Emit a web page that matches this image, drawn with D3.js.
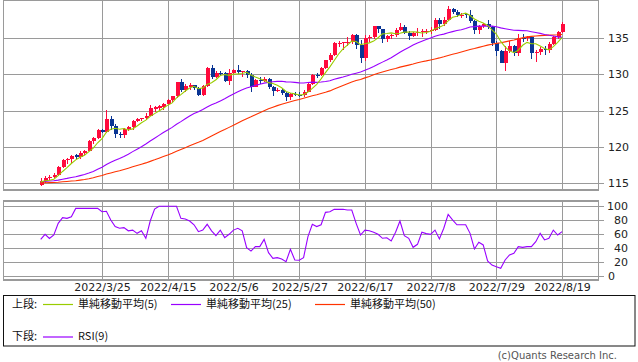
<!DOCTYPE html>
<html>
<head>
<meta charset="utf-8">
<script src="https://cdn.jsdelivr.net/npm/d3@7"></script>
<style>
  body { margin: 0; background: #fff; }
  svg { display: block; }
  text { font-family: "DejaVu Sans", sans-serif; }
  .jp { font-family: "Noto Sans CJK JP", sans-serif; }
</style>
</head>
<body>
<svg id="chart" width="638" height="362"></svg>
<script>
// --- USD/JPY daily candles 2022/3/7 - 2022/8/19 ---
const dates = [
  '2022/3/7','2022/3/8','2022/3/9','2022/3/10','2022/3/11','2022/3/14','2022/3/15','2022/3/16','2022/3/17','2022/3/18',
  '2022/3/21','2022/3/22','2022/3/23','2022/3/24','2022/3/25','2022/3/28','2022/3/29','2022/3/30','2022/3/31','2022/4/1',
  '2022/4/4','2022/4/5','2022/4/6','2022/4/7','2022/4/8','2022/4/11','2022/4/12','2022/4/13','2022/4/14','2022/4/15',
  '2022/4/18','2022/4/19','2022/4/20','2022/4/21','2022/4/22','2022/4/25','2022/4/26','2022/4/27','2022/4/28','2022/4/29',
  '2022/5/2','2022/5/3','2022/5/4','2022/5/5','2022/5/6','2022/5/9','2022/5/10','2022/5/11','2022/5/12','2022/5/13',
  '2022/5/16','2022/5/17','2022/5/18','2022/5/19','2022/5/20','2022/5/23','2022/5/24','2022/5/25','2022/5/26','2022/5/27',
  '2022/5/30','2022/5/31','2022/6/1','2022/6/2','2022/6/3','2022/6/6','2022/6/7','2022/6/8','2022/6/9','2022/6/10',
  '2022/6/13','2022/6/14','2022/6/15','2022/6/16','2022/6/17','2022/6/20','2022/6/21','2022/6/22','2022/6/23','2022/6/24',
  '2022/6/27','2022/6/28','2022/6/29','2022/6/30','2022/7/1','2022/7/4','2022/7/5','2022/7/6','2022/7/7','2022/7/8',
  '2022/7/11','2022/7/12','2022/7/13','2022/7/14','2022/7/15','2022/7/18','2022/7/19','2022/7/20','2022/7/21','2022/7/22',
  '2022/7/25','2022/7/26','2022/7/27','2022/7/28','2022/7/29','2022/8/1','2022/8/2','2022/8/3','2022/8/4','2022/8/5',
  '2022/8/8','2022/8/9','2022/8/10','2022/8/11','2022/8/12','2022/8/15','2022/8/16','2022/8/17','2022/8/18','2022/8/19'
];
const open = [
  114.80,115.33,115.68,115.86,116.13,117.28,118.18,118.30,118.95,118.60,
  119.17,119.45,120.80,121.17,122.33,122.05,123.84,122.85,121.82,121.70,
  122.53,122.78,123.60,123.81,123.97,124.33,125.20,125.35,125.50,125.90,
  126.40,126.96,128.89,127.86,128.30,128.51,128.13,127.22,128.40,130.81,
  129.70,130.25,130.13,129.10,130.20,130.56,130.30,130.42,129.95,128.30,
  129.25,129.10,129.40,128.30,127.75,127.90,127.40,126.85,127.30,127.20,
  127.10,127.63,128.67,129.95,129.88,130.87,131.91,132.62,134.20,134.30,
  134.35,134.44,135.44,133.97,132.19,134.97,135.08,136.66,136.23,134.93,
  135.21,135.45,136.11,136.56,135.72,135.21,135.72,135.86,135.92,136.02,
  136.10,137.43,136.89,137.42,138.97,138.53,138.10,138.25,138.20,137.37,
  136.10,136.68,136.95,136.56,134.26,133.27,131.59,133.17,133.86,133.00,
  135.05,134.98,135.15,132.92,133.01,133.42,133.30,134.22,135.10,135.89
];
const high = [
  115.80,116.05,116.20,116.40,117.35,118.40,118.45,118.90,119.05,119.40,
  119.60,121.00,121.40,122.45,122.45,125.09,124.30,123.15,122.10,122.60,
  122.90,123.70,124.05,124.05,124.68,125.77,125.62,125.80,126.00,126.60,
  127.05,129.00,129.40,128.70,128.85,128.60,128.20,128.60,131.00,131.25,
  130.40,130.45,130.35,130.80,130.80,131.35,130.50,130.55,130.15,129.40,
  129.70,129.70,129.45,128.40,128.10,128.00,127.50,127.45,127.55,127.50,
  127.85,128.85,130.10,130.20,130.98,132.00,132.99,134.48,134.56,134.50,
  135.20,135.59,135.60,134.70,135.43,135.40,136.71,136.71,136.30,135.40,
  135.60,136.40,137.00,136.80,135.95,135.85,136.40,136.20,136.20,136.50,
  137.75,137.70,137.85,139.39,139.10,138.80,138.40,138.35,138.87,137.50,
  136.80,137.10,137.45,136.60,134.60,133.30,133.90,134.55,134.10,135.50,
  135.60,135.30,135.20,133.40,133.70,133.90,134.40,135.30,136.00,137.20
];
const low = [
  114.65,115.10,115.45,115.70,116.00,117.10,117.70,117.85,118.35,118.40,
  118.90,119.40,120.35,121.10,121.90,121.95,122.40,121.20,121.30,121.30,
  122.25,122.40,123.40,123.55,123.75,124.25,124.85,125.10,125.10,125.80,
  126.25,126.80,127.60,127.50,127.80,127.80,126.95,126.95,128.30,129.30,
  129.50,129.80,128.90,128.60,130.00,130.00,129.70,129.50,127.50,128.20,
  128.70,128.90,128.00,127.00,127.50,127.20,126.36,126.50,126.95,126.85,
  126.90,127.50,128.50,129.50,129.80,130.70,131.75,132.50,133.70,133.40,
  133.90,134.20,133.50,131.50,131.90,134.50,134.90,135.70,134.27,134.50,
  134.90,135.10,135.90,135.60,134.75,135.10,135.30,135.20,135.50,135.60,
  135.95,136.30,136.70,137.30,138.30,137.90,137.70,137.80,137.00,135.60,
  135.60,136.40,136.30,133.95,132.50,131.50,130.39,132.90,132.50,132.55,
  134.40,134.60,132.05,131.75,132.60,132.60,132.90,134.00,134.90,135.70
];
const close = [
  115.33,115.68,115.86,116.13,117.28,118.18,118.30,118.77,118.60,119.17,
  119.45,120.80,121.17,122.33,122.05,123.84,122.85,121.82,121.70,122.53,
  122.78,123.60,123.81,123.97,124.33,125.38,125.45,125.65,125.90,126.40,
  126.96,128.89,127.86,128.40,128.51,128.13,127.22,128.40,130.81,129.70,
  130.15,130.13,129.10,130.20,130.56,130.30,130.42,129.95,128.30,129.20,
  129.10,129.40,128.30,127.75,127.90,127.40,126.85,127.30,127.10,127.10,
  127.63,128.67,129.85,129.88,130.87,131.91,132.62,134.26,134.36,134.39,
  134.44,135.44,133.97,132.19,134.97,135.08,136.66,136.23,134.93,135.21,
  135.45,136.11,136.56,135.72,135.21,135.72,135.86,135.92,136.02,136.10,
  137.43,136.89,137.42,138.97,138.53,138.16,138.22,138.20,137.37,136.10,
  136.68,136.95,136.56,134.26,133.27,131.59,133.17,133.86,133.00,135.00,
  134.98,135.15,132.92,133.01,133.42,133.30,134.22,135.10,135.89,136.89
];
// moving averages
const ma5 = [
  115.20,115.35,115.43,115.56,116.06,116.63,117.15,117.73,118.23,118.60,
  118.86,119.36,119.84,120.58,121.16,122.04,122.45,122.58,122.45,122.55,
  122.34,122.49,122.88,123.34,123.70,124.22,124.59,124.96,125.34,125.76,
  126.07,126.76,127.20,127.70,128.12,128.36,128.02,128.13,128.61,128.85,
  129.26,129.84,129.98,129.86,130.03,130.06,130.12,130.29,129.91,129.63,
  129.39,129.19,128.86,128.75,128.49,128.15,127.64,127.44,127.31,127.15,
  127.20,127.56,128.07,128.63,129.38,130.24,131.03,131.91,132.80,133.51,
  134.01,134.58,134.52,134.09,134.20,134.33,134.57,135.03,135.57,135.62,
  135.70,135.59,135.65,135.81,135.81,135.86,135.81,135.69,135.75,135.92,
  136.27,136.47,136.77,137.36,137.85,137.99,138.26,138.42,138.10,137.61,
  137.31,137.06,136.73,136.11,135.54,134.53,133.77,133.23,132.98,133.32,
  134.00,134.40,134.21,134.21,133.90,133.56,133.37,133.81,134.39,135.08
];
const ma25 = [
  115.22,115.26,115.31,115.36,115.44,115.57,115.68,115.81,115.91,116.06,
  116.22,116.42,116.64,116.94,117.22,117.59,117.90,118.17,118.42,118.70,
  119.01,119.36,119.69,120.03,120.41,120.82,121.21,121.60,121.99,122.35,
  122.70,123.13,123.49,123.88,124.26,124.60,124.86,125.15,125.49,125.80,
  126.05,126.34,126.63,126.97,127.29,127.59,127.87,128.11,128.28,128.48,
  128.63,128.79,128.89,128.97,129.03,129.04,128.96,128.94,128.89,128.83,
  128.81,128.87,128.93,128.89,128.94,129.01,129.11,129.31,129.48,129.63,
  129.80,130.00,130.16,130.32,130.55,130.79,131.08,131.39,131.68,131.97,
  132.29,132.67,133.04,133.38,133.70,134.03,134.32,134.56,134.80,135.01,
  135.23,135.41,135.53,135.72,135.88,136.03,136.14,136.31,136.52,136.56,
  136.63,136.64,136.65,136.63,136.55,136.39,136.28,136.17,136.06,136.05,
  136.02,135.99,135.87,135.75,135.64,135.48,135.37,135.28,135.16,135.09
];
const ma50 = [
  115.06,115.07,115.09,115.11,115.15,115.21,115.26,115.31,115.36,115.44,
  115.52,115.63,115.76,115.93,116.08,116.27,116.43,116.58,116.73,116.90,
  117.08,117.27,117.46,117.63,117.81,118.02,118.23,118.46,118.68,118.90,
  119.14,119.40,119.65,119.90,120.16,120.41,120.64,120.90,121.21,121.51,
  121.82,122.12,122.40,122.70,123.00,123.30,123.61,123.90,124.16,124.45,
  124.72,125.00,125.25,125.48,125.69,125.87,126.05,126.22,126.39,126.54,
  126.71,126.87,127.04,127.19,127.37,127.53,127.72,127.97,128.23,128.46,
  128.70,128.93,129.14,129.30,129.51,129.71,129.93,130.14,130.32,130.50,
  130.67,130.81,130.99,131.13,131.27,131.42,131.59,131.74,131.85,131.98,
  132.12,132.26,132.42,132.60,132.76,132.91,133.07,133.24,133.42,133.55,
  133.71,133.86,134.02,134.15,134.26,134.34,134.47,134.60,134.72,134.88,
  135.02,135.15,135.22,135.28,135.33,135.36,135.39,135.41,135.44,135.49
];
const rsi9 = [
  52.8,60.0,54.0,59.0,75.7,83.8,82.8,85.0,97.0,97.0,
  97.0,97.0,97.0,97.0,92.3,93.0,80.4,71.0,68.6,69.5,
  65.0,66.0,61.4,65.0,54.3,79.0,96.0,100,100,100,
  100,100,82.8,82.0,79.0,73.6,63.8,66.0,74.3,65.0,
  58.0,66.0,55.3,60.0,66.0,68.6,65.0,41.0,36.0,42.4,
  42.4,52.8,33.8,25.7,26.7,24.8,21.0,38.5,23.3,23.0,
  26.7,56.6,74.3,71.0,73.6,91.4,92.3,95.7,95.7,95.7,
  94.8,94.8,75.7,59.0,66.0,65.0,63.0,60.0,54.3,55.0,
  50.4,63.0,79.0,58.0,54.3,41.4,45.7,62.9,61.0,60.0,
  66.0,53.3,68.6,88.5,80.5,73.6,73.6,73.6,61.4,39.0,
  48.6,44.8,21.9,16.0,13.6,11.4,23.3,30.5,32.8,42.4,
  41.4,42.4,42.4,49.5,61.4,52.0,54.3,66.0,59.0,63.8
];
const xLabels = ['2022/3/25','2022/4/15','2022/5/6','2022/5/27','2022/6/17','2022/7/8','2022/7/29','2022/8/19'];
const priceTicks = [115, 120, 125, 130, 135];
const rsiTicks = [0, 20, 40, 60, 80, 100];

const UP = '#ff0a3c', DOWN = '#0a3594', GRID = '#9a9a9a';
const C5 = '#99cc00', C25 = '#9900ff', C50 = '#ff3300';

const svg = d3.select('#chart');
const L = 3, R = 598;
const top1 = 0.5, bot1 = 190;
const top2 = 201, bot2 = 280;

const x = d3.scaleLinear().domain([-8.6, 127.2]).range([L, R]);
const y = d3.scaleLinear().domain([114.08, 140.23]).range([bot1, 0]);
const yR = d3.scaleLinear().domain([-5.3, 107.6]).range([bot2, top2]);

const labelIdx = xLabels.map(d => dates.indexOf(d));
const idx = d3.range(dates.length);

// ---- frames + grids
function panel(t, b, yScale, ticks) {
    const g = svg.append('g').attr('shape-rendering', 'crispEdges');
    g.selectAll('line.h').data(ticks).join('line')
        .attr('x1', L).attr('x2', R + 6)
        .attr('y1', d => Math.round(yScale(d)) + 0.5).attr('y2', d => Math.round(yScale(d)) + 0.5)
        .attr('stroke', GRID);
    g.selectAll('line.v').data(labelIdx).join('line')
        .attr('x1', d => Math.round(x(d)) + 0.5).attr('x2', d => Math.round(x(d)) + 0.5)
        .attr('y1', t).attr('y2', b)
        .attr('stroke', GRID);
    g.append('rect').attr('x', L + 0.5).attr('y', t).attr('width', R - L).attr('height', b - t)
        .attr('fill', 'none').attr('stroke', GRID).attr('stroke-width', 1.3);
}
panel(top1, bot1, y, priceTicks);
panel(top2, bot2, yR, rsiTicks);

// ---- candles
const cg = svg.append('g').attr('shape-rendering', 'crispEdges');
const bw = 4;
cg.selectAll('line').data(idx).join('line')
    .attr('x1', i => Math.round(x(i)) + 0.5).attr('x2', i => Math.round(x(i)) + 0.5)
    .attr('y1', i => y(high[i])).attr('y2', i => y(low[i]))
    .attr('stroke', i => close[i] >= open[i] ? UP : DOWN);
cg.selectAll('rect').data(idx).join('rect')
    .attr('x', i => Math.round(x(i)) - bw / 2 + 0.5)
    .attr('width', bw)
    .attr('y', i => y(Math.max(open[i], close[i])))
    .attr('height', i => Math.max(1, Math.abs(y(open[i]) - y(close[i]))))
    .attr('fill', i => close[i] >= open[i] ? UP : DOWN);

// ---- moving averages
function series(vals, yScale, color) {
    svg.append('path')
        .datum(idx)
        .attr('fill', 'none').attr('stroke', color).attr('stroke-width', 1.1)
        .attr('d', d3.line().x(i => x(i)).y(i => yScale(vals[i])));
}
series(ma50, y, C50);
series(ma25, y, C25);
series(ma5, y, C5);
series(rsi9, yR, C25);

// ---- axes
const axY = svg.append('g').attr('transform', `translate(${R},0)`)
    .call(d3.axisRight(y).tickValues(priceTicks).tickSize(0).tickPadding(10));
axY.select('.domain').remove();
axY.selectAll('text').attr('font-size', 11).attr('fill', '#222').attr('font-family', 'DejaVu Sans');

const axR = svg.append('g').attr('transform', `translate(${R},0)`)
    .call(d3.axisRight(yR).tickValues(rsiTicks).tickSize(0));
axR.select('.domain').remove();
axR.selectAll('text').attr('font-size', 11).attr('fill', '#222').attr('font-family', 'DejaVu Sans')
    .attr('text-anchor', d => d === 0 ? 'start' : 'end')
    .attr('x', d => d === 0 ? 10 : 30);

const axX = svg.append('g').attr('transform', `translate(0,${bot2})`)
    .call(d3.axisBottom(x).tickValues(labelIdx).tickFormat(i => dates[i]).tickSize(0).tickPadding(3));
axX.select('.domain').remove();
axX.selectAll('text').attr('font-size', 11).attr('fill', '#222').attr('font-family', 'DejaVu Sans');

// ---- legend
svg.append('rect').attr('x', 3.5).attr('y', 295.5).attr('width', 631.5).attr('height', 50.5)
    .attr('fill', 'none').attr('stroke', '#111');
const legendRows = [
    { label: '上段:', y: 304, items: [
        { name: '単純移動平均(5)', color: C5, x: 43 },
        { name: '単純移動平均(25)', color: C25, x: 171 },
        { name: '単純移動平均(50)', color: C50, x: 315 }
    ] },
    { label: '下段:', y: 336.5, items: [
        { name: 'RSI(9)', color: C25, x: 43 }
    ] }
];
legendRows.forEach(row => {
    svg.append('text').attr('class', 'jp').attr('x', 12).attr('y', row.y).attr('dy', '0.35em')
        .attr('font-size', 11).attr('fill', '#111').text(row.label);
    row.items.forEach(it => {
        svg.append('line').attr('x1', it.x).attr('x2', it.x + 30)
            .attr('y1', row.y + 0.5).attr('y2', row.y + 0.5)
            .attr('stroke', it.color).attr('stroke-width', 1.2);
        svg.append('text').attr('class', 'jp').attr('x', it.x + 35).attr('y', row.y).attr('dy', '0.35em')
            .attr('font-size', 11).attr('fill', '#111').text(it.name);
    });
});

svg.append('text').attr('x', 617).attr('y', 355.5).attr('dy', '0.35em')
    .attr('text-anchor', 'end').attr('font-size', 10).attr('fill', '#555')
    .attr('font-family', 'DejaVu Sans').text('(c)Quants Research Inc.');
</script>
</body>
</html>
